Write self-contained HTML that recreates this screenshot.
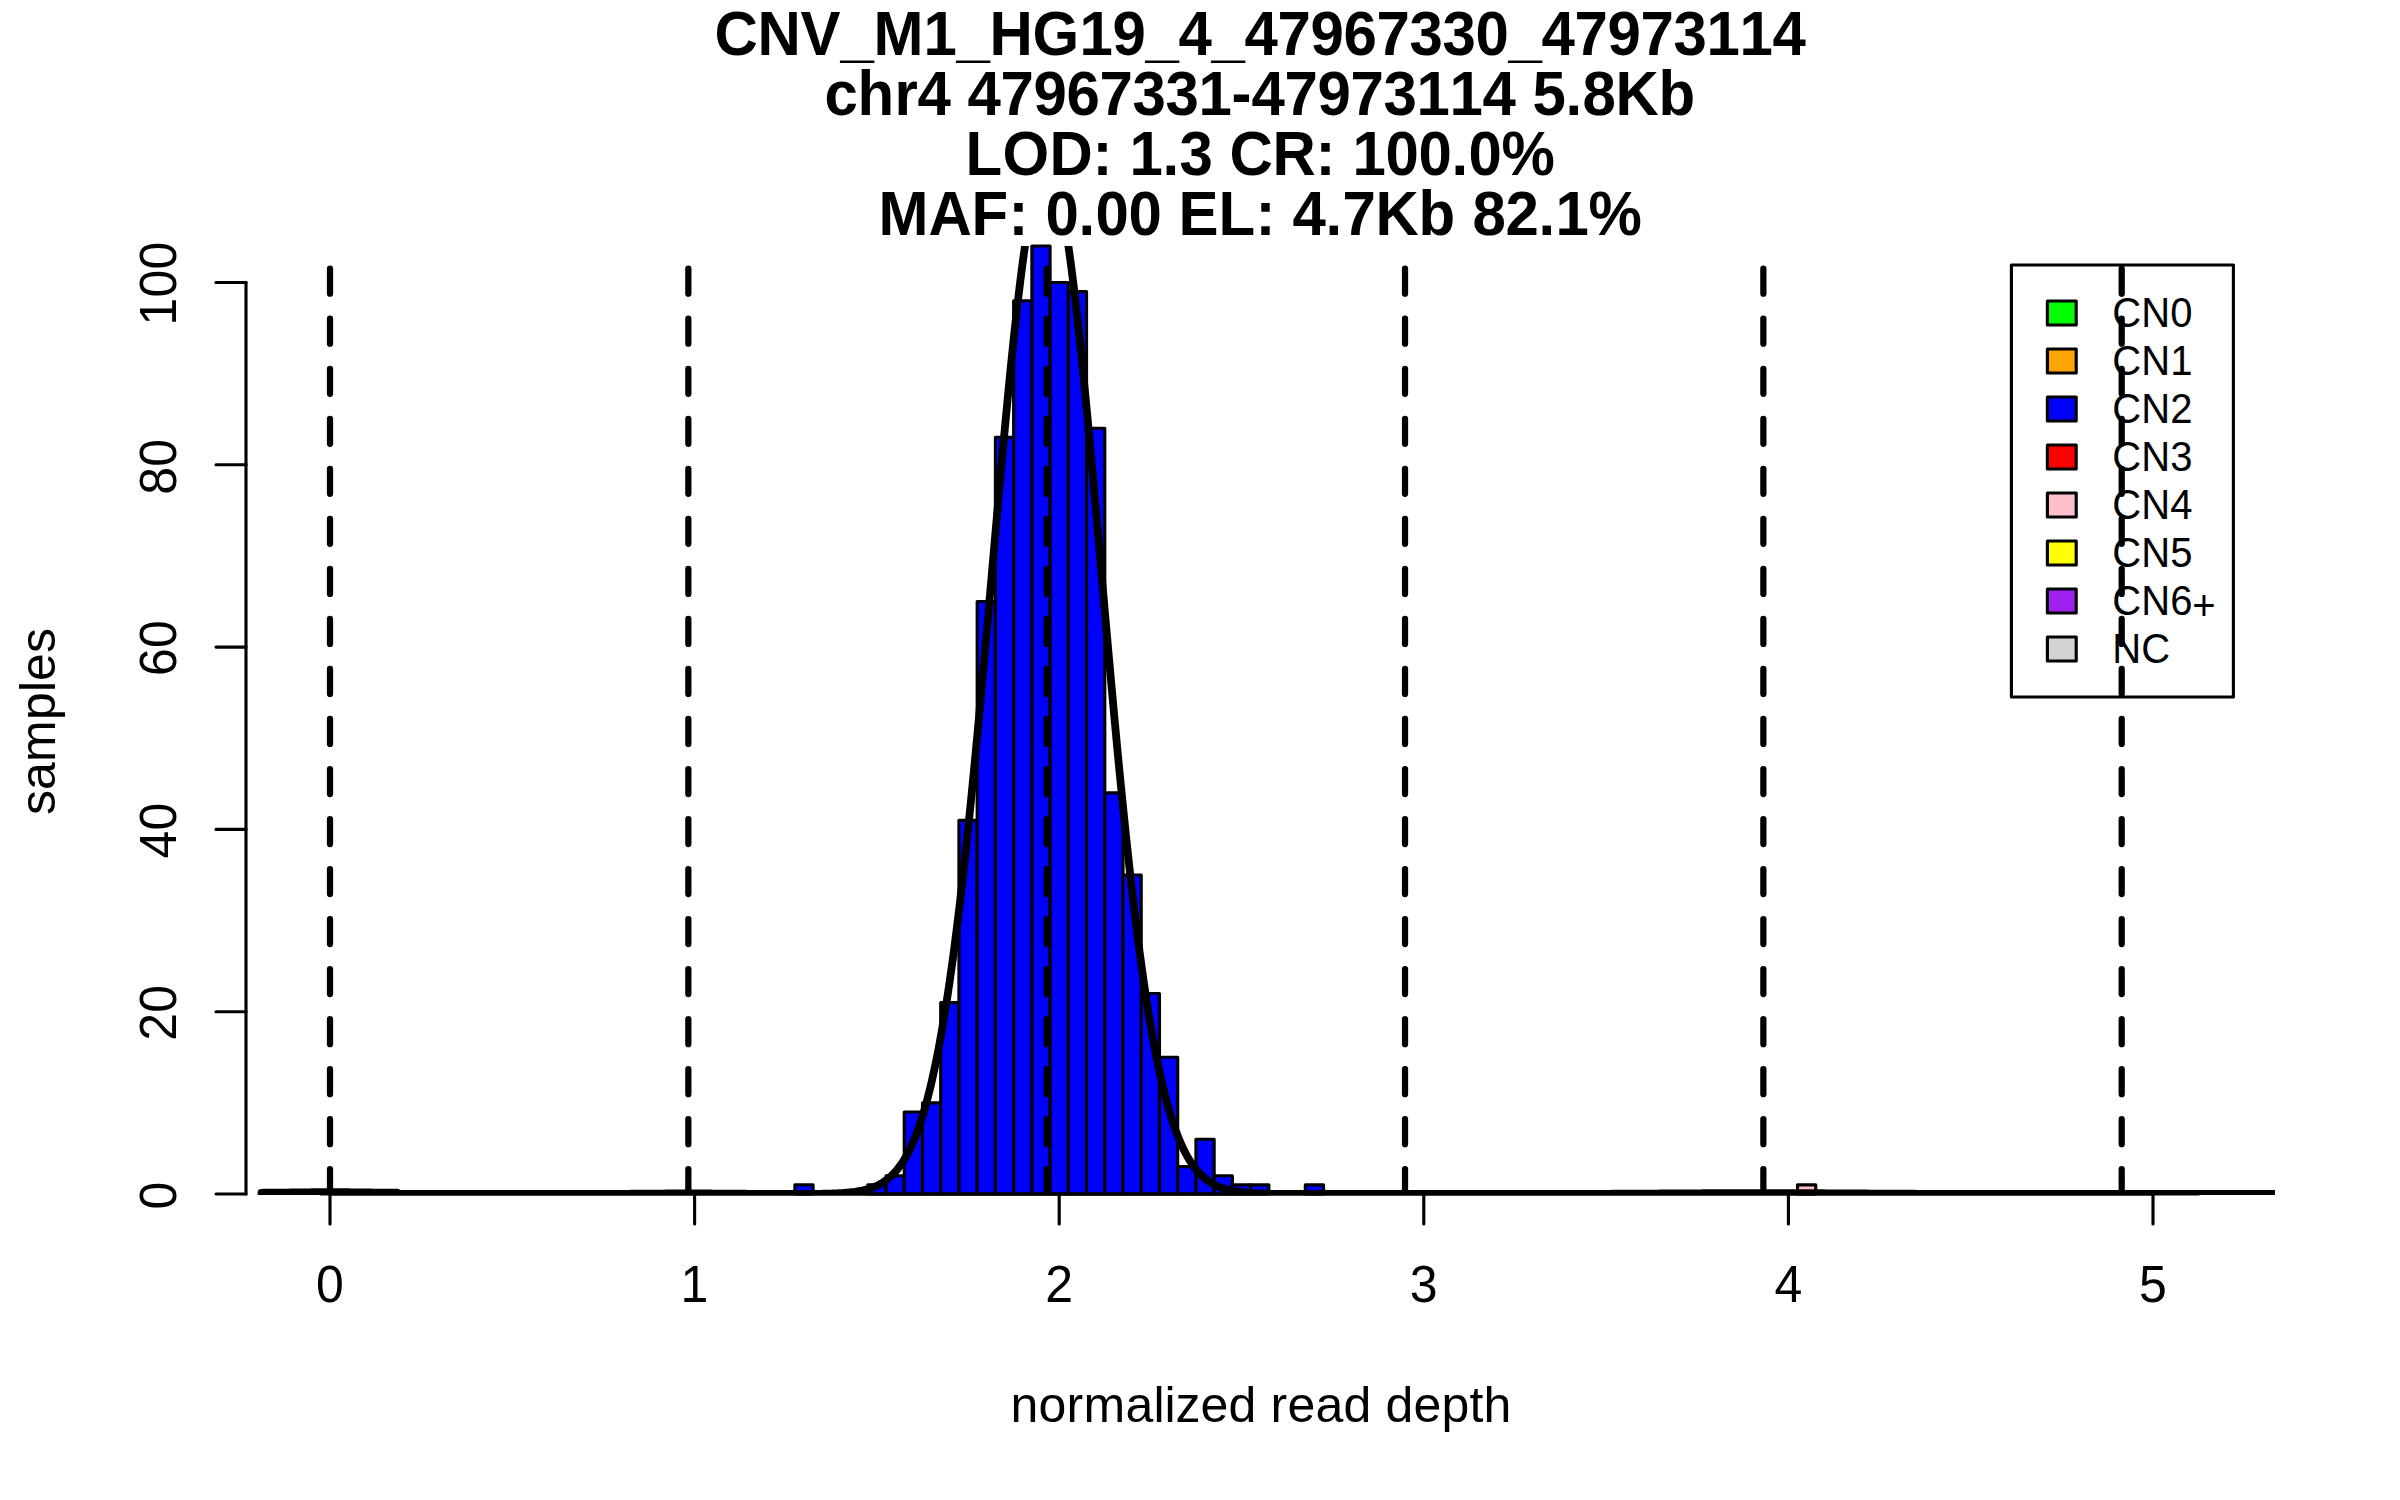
<!DOCTYPE html>
<html><head><meta charset="utf-8"><title>CNV_M1_HG19_4_47967330_47973114</title>
<style>html,body{margin:0;padding:0;background:#fff}body{width:2400px;height:1500px;overflow:hidden}</style></head>
<body>
<svg width="2400" height="1500" viewBox="0 0 2400 1500" style="display:block">
<defs><clipPath id="plt"><rect x="246.0" y="246.0" width="2029.0" height="949.0"/></clipPath></defs>
<rect width="2400" height="1500" fill="#fff"/>
<g stroke="#000" stroke-width="3.125" stroke-linejoin="round" stroke-linecap="round">
<line x1="320.88" y1="1194.0" x2="2198.57" y2="1194.0"/>
<rect x="794.87" y="1184.88" width="18.23" height="9.12" fill="#0000ff"/>
<rect x="867.79" y="1184.88" width="18.23" height="9.12" fill="#0000ff"/>
<rect x="886.02" y="1175.77" width="18.23" height="18.23" fill="#0000ff"/>
<rect x="904.25" y="1111.96" width="18.23" height="82.04" fill="#0000ff"/>
<rect x="922.48" y="1102.85" width="18.23" height="91.15" fill="#0000ff"/>
<rect x="940.71" y="1002.58" width="18.23" height="191.42" fill="#0000ff"/>
<rect x="958.94" y="820.27" width="18.23" height="373.73" fill="#0000ff"/>
<rect x="977.17" y="601.50" width="18.23" height="592.50" fill="#0000ff"/>
<rect x="995.40" y="437.42" width="18.23" height="756.58" fill="#0000ff"/>
<rect x="1013.63" y="300.69" width="18.23" height="893.31" fill="#0000ff"/>
<rect x="1031.86" y="246.00" width="18.23" height="948.00" fill="#0000ff"/>
<rect x="1050.09" y="282.46" width="18.23" height="911.54" fill="#0000ff"/>
<rect x="1068.32" y="291.58" width="18.23" height="902.42" fill="#0000ff"/>
<rect x="1086.55" y="428.31" width="18.23" height="765.69" fill="#0000ff"/>
<rect x="1104.78" y="792.92" width="18.23" height="401.08" fill="#0000ff"/>
<rect x="1123.01" y="874.96" width="18.23" height="319.04" fill="#0000ff"/>
<rect x="1141.24" y="993.46" width="18.23" height="200.54" fill="#0000ff"/>
<rect x="1159.47" y="1057.27" width="18.23" height="136.73" fill="#0000ff"/>
<rect x="1177.70" y="1166.65" width="18.23" height="27.35" fill="#0000ff"/>
<rect x="1195.93" y="1139.31" width="18.23" height="54.69" fill="#0000ff"/>
<rect x="1214.16" y="1175.77" width="18.23" height="18.23" fill="#0000ff"/>
<rect x="1232.39" y="1184.88" width="18.23" height="9.12" fill="#0000ff"/>
<rect x="1250.62" y="1184.88" width="18.23" height="9.12" fill="#0000ff"/>
<rect x="1305.31" y="1184.88" width="18.23" height="9.12" fill="#0000ff"/>
<rect x="1797.51" y="1184.88" width="18.23" height="9.12" fill="#ffc0cb"/>
</g>
<g stroke="#000" stroke-width="3.125" stroke-linecap="round" fill="none">
<line x1="330.0" y1="1194.0" x2="2153.0" y2="1194.0"/>
<line x1="330.00" y1="1194.0" x2="330.00" y2="1224.0"/>
<line x1="694.60" y1="1194.0" x2="694.60" y2="1224.0"/>
<line x1="1059.20" y1="1194.0" x2="1059.20" y2="1224.0"/>
<line x1="1423.80" y1="1194.0" x2="1423.80" y2="1224.0"/>
<line x1="1788.40" y1="1194.0" x2="1788.40" y2="1224.0"/>
<line x1="2153.00" y1="1194.0" x2="2153.00" y2="1224.0"/>
<line x1="246.0" y1="1194.00" x2="246.0" y2="282.46"/>
<line x1="246.0" y1="1194.00" x2="216.0" y2="1194.00"/>
<line x1="246.0" y1="1011.69" x2="216.0" y2="1011.69"/>
<line x1="246.0" y1="829.38" x2="216.0" y2="829.38"/>
<line x1="246.0" y1="647.08" x2="216.0" y2="647.08"/>
<line x1="246.0" y1="464.77" x2="216.0" y2="464.77"/>
<line x1="246.0" y1="282.46" x2="216.0" y2="282.46"/>
</g>
<g font-family="Liberation Sans, Arial, Helvetica, sans-serif" fill="#000">
<text transform="translate(330.00 1302.00) scale(1 1.03)" x="-14.0" y="0" font-size="50" xml:space="preserve">0</text>
<text transform="translate(694.60 1302.00) scale(1 1.03)" x="-14.0" y="0" font-size="50" xml:space="preserve">1</text>
<text transform="translate(1059.20 1302.00) scale(1 1.03)" x="-14.0" y="0" font-size="50" xml:space="preserve">2</text>
<text transform="translate(1423.80 1302.00) scale(1 1.03)" x="-14.0" y="0" font-size="50" xml:space="preserve">3</text>
<text transform="translate(1788.40 1302.00) scale(1 1.03)" x="-14.0" y="0" font-size="50" xml:space="preserve">4</text>
<text transform="translate(2153.00 1302.00) scale(1 1.03)" x="-14.0" y="0" font-size="50" xml:space="preserve">5</text>
<text transform="translate(175.50 1195.50) rotate(-90) scale(1 1.03)" x="-14.0" y="0" font-size="50" xml:space="preserve">0</text>
<text transform="translate(175.50 1012.69) rotate(-90) scale(1 1.03)" x="-28.0 0.0" y="0" font-size="50" xml:space="preserve">20</text>
<text transform="translate(175.50 830.38) rotate(-90) scale(1 1.03)" x="-28.0 0.0" y="0" font-size="50" xml:space="preserve">40</text>
<text transform="translate(175.50 648.08) rotate(-90) scale(1 1.03)" x="-28.0 0.0" y="0" font-size="50" xml:space="preserve">60</text>
<text transform="translate(175.50 466.77) rotate(-90) scale(1 1.03)" x="-28.0 0.0" y="0" font-size="50" xml:space="preserve">80</text>
<text transform="translate(175.50 283.46) rotate(-90) scale(1 1.03)" x="-42.0 -14.0 14.0" y="0" font-size="50" xml:space="preserve">100</text>
<text transform="translate(1261.00 1422.00)" x="-250.5 -222.5 -194.5 -177.5 -135.5 -107.5 -96.5 -85.5 -60.5 -32.5 -4.5 9.5 26.5 54.5 82.5 110.5 124.5 152.5 180.5 208.5 222.5" y="0" font-size="50" xml:space="preserve">normalized read depth</text>
<text transform="translate(55.00 721.50) rotate(-90)" x="-93.5 -68.5 -40.5 1.5 29.5 40.5 68.5" y="0" font-size="50" xml:space="preserve">samples</text>
<text transform="translate(1260.00 55.00) scale(1 1.045)" x="-545.5 -502.5 -459.5 -419.5 -386.5 -336.5 -303.5 -270.5 -227.5 -180.5 -147.5 -114.5 -81.5 -48.5 -15.5 17.5 50.5 83.5 116.5 149.5 182.5 215.5 248.5 281.5 314.5 347.5 380.5 413.5 446.5 479.5 512.5" y="0" font-size="60" font-weight="bold" xml:space="preserve">CNV_M1_HG19_4_47967330_47973114</text>
<text transform="translate(1260.00 115.00) scale(1 1.045)" x="-435.5 -402.5 -365.5 -342.5 -309.5 -292.5 -259.5 -226.5 -193.5 -160.5 -127.5 -94.5 -61.5 -28.5 -8.5 24.5 57.5 90.5 123.5 156.5 189.5 222.5 255.5 272.5 305.5 322.5 355.5 398.5" y="0" font-size="60" font-weight="bold" xml:space="preserve">chr4 47967331-47973114 5.8Kb</text>
<text transform="translate(1260.00 175.00) scale(1 1.045)" x="-294.5 -257.5 -210.5 -167.5 -147.5 -130.5 -97.5 -80.5 -47.5 -30.5 12.5 55.5 75.5 92.5 125.5 158.5 191.5 208.5 241.5" y="0" font-size="60" font-weight="bold" xml:space="preserve">LOD: 1.3 CR: 100.0%</text>
<text transform="translate(1260.00 235.00) scale(1 1.045)" x="-381.5 -331.5 -288.5 -251.5 -231.5 -214.5 -181.5 -164.5 -131.5 -98.5 -81.5 -41.5 -4.5 15.5 32.5 65.5 82.5 115.5 158.5 195.5 212.5 245.5 278.5 295.5 328.5" y="0" font-size="60" font-weight="bold" xml:space="preserve">MAF: 0.00 EL: 4.7Kb 82.1%</text>
</g>
<path d="M261.4,1192.78 L262.4,1192.78 L263.4,1192.77 L264.4,1192.76 L265.4,1192.75 L266.4,1192.75 L267.4,1192.74 L268.4,1192.73 L269.4,1192.72 L270.4,1192.71 L271.4,1192.71 L272.4,1192.70 L273.4,1192.69 L274.4,1192.68 L275.4,1192.67 L276.4,1192.66 L277.4,1192.65 L278.4,1192.64 L279.4,1192.63 L280.4,1192.62 L281.4,1192.61 L282.4,1192.60 L283.4,1192.58 L284.4,1192.57 L285.4,1192.56 L286.4,1192.55 L287.4,1192.54 L288.4,1192.53 L289.4,1192.51 L290.4,1192.50 L291.4,1192.49 L292.4,1192.48 L293.4,1192.47 L294.4,1192.45 L295.4,1192.44 L296.4,1192.43 L297.4,1192.42 L298.4,1192.41 L299.4,1192.39 L300.4,1192.38 L301.4,1192.37 L302.4,1192.36 L303.4,1192.35 L304.4,1192.34 L305.4,1192.33 L306.4,1192.31 L307.4,1192.30 L308.4,1192.29 L309.4,1192.28 L310.4,1192.28 L311.4,1192.27 L312.4,1192.26 L313.4,1192.25 L314.4,1192.24 L315.4,1192.23 L316.4,1192.23 L317.4,1192.22 L318.4,1192.21 L319.4,1192.21 L320.4,1192.20 L321.4,1192.20 L322.4,1192.19 L323.4,1192.19 L324.4,1192.19 L325.4,1192.18 L326.4,1192.18 L327.4,1192.18 L328.4,1192.18 L329.4,1192.18 L330.4,1192.18 L331.4,1192.18 L332.4,1192.18 L333.4,1192.18 L334.4,1192.18 L335.4,1192.18 L336.4,1192.19 L337.4,1192.19 L338.4,1192.20 L339.4,1192.20 L340.4,1192.21 L341.4,1192.21 L342.4,1192.22 L343.4,1192.22 L344.4,1192.23 L345.4,1192.24 L346.4,1192.25 L347.4,1192.26 L348.4,1192.26 L349.4,1192.27 L350.4,1192.28 L351.4,1192.29 L352.4,1192.30 L353.4,1192.31 L354.4,1192.32 L355.4,1192.33 L356.4,1192.35 L357.4,1192.36 L358.4,1192.37 L359.4,1192.38 L360.4,1192.39 L361.4,1192.40 L362.4,1192.41 L363.4,1192.43 L364.4,1192.44 L365.4,1192.45 L366.4,1192.46 L367.4,1192.48 L368.4,1192.49 L369.4,1192.50 L370.4,1192.51 L371.4,1192.52 L372.4,1192.54 L373.4,1192.55 L374.4,1192.56 L375.4,1192.57 L376.4,1192.58 L377.4,1192.59 L378.4,1192.60 L379.4,1192.61 L380.4,1192.63 L381.4,1192.64 L382.4,1192.65 L383.4,1192.66 L384.4,1192.67 L385.4,1192.68 L386.4,1192.69 L387.4,1192.69 L388.4,1192.70 L389.4,1192.71 L390.4,1192.72 L391.4,1192.73 L392.4,1192.74 L393.4,1192.75 L394.4,1192.75 L395.4,1192.76 L396.4,1192.77 L397.4,1192.77 L398.4,1193.87 L399.4,1193.88 L400.4,1193.89 L401.4,1193.89 L402.4,1193.90 L403.4,1193.90 L404.4,1193.91 L405.4,1193.91 L406.4,1193.92 L407.4,1193.92 L408.4,1193.93 L409.4,1193.93 L410.4,1193.94 L411.4,1193.94 L412.4,1193.94 L413.4,1193.95 L414.4,1193.95 L415.4,1193.95 L416.4,1193.96 L417.4,1193.96 L418.4,1193.96 L419.4,1193.96 L420.4,1193.97 L421.4,1193.97 L422.4,1193.97 L423.4,1193.97 L424.4,1193.97 L425.4,1193.98 L426.4,1193.98 L427.4,1193.98 L428.4,1193.98 L429.4,1193.98 L430.4,1193.98 L431.4,1193.98 L432.4,1193.99 L433.4,1193.99 L434.4,1193.99 L435.4,1193.99 L436.4,1193.99 L437.4,1193.99 L438.4,1193.99 L439.4,1193.99 L440.4,1193.99 L441.4,1193.99 L442.4,1193.99 L443.4,1193.99 L444.4,1193.99 L445.4,1194.00 L446.4,1194.00 L447.4,1194.00 L448.4,1194.00 L449.4,1194.00 L450.4,1194.00 L451.4,1194.00 L452.4,1194.00 L453.4,1194.00 L454.4,1194.00 L455.4,1194.00 L456.4,1194.00 L457.4,1194.00 L458.4,1194.00 L459.4,1194.00 L460.4,1194.00 L461.4,1194.00 L462.4,1194.00 L463.4,1194.00 L464.4,1194.00 L465.4,1194.00 L466.4,1194.00 L467.4,1194.00 L468.4,1194.00 L469.4,1194.00 L470.4,1194.00 L471.4,1194.00 L472.4,1194.00 L473.4,1194.00 L474.4,1194.00 L475.4,1194.00 L476.4,1194.00 L477.4,1194.00 L478.4,1194.00 L479.4,1194.00 L480.4,1194.00 L481.4,1194.00 L482.4,1194.00 L483.4,1194.00 L484.4,1194.00 L485.4,1194.00 L486.4,1194.00 L487.4,1194.00 L488.4,1194.00 L489.4,1194.00 L490.4,1194.00 L491.4,1194.00 L492.4,1194.00 L493.4,1194.00 L494.4,1194.00 L495.4,1194.00 L496.4,1194.00 L497.4,1194.00 L498.4,1194.00 L499.4,1194.00 L500.4,1194.00 L501.4,1194.00 L502.4,1194.00 L503.4,1194.00 L504.4,1194.00 L505.4,1194.00 L506.4,1194.00 L507.4,1194.00 L508.4,1194.00 L509.4,1194.00 L510.4,1194.00 L511.4,1194.00 L512.4,1194.00 L513.4,1194.00 L514.4,1194.00 L515.4,1194.00 L516.4,1194.00 L517.4,1194.00 L518.4,1194.00 L519.4,1194.00 L520.4,1194.00 L521.4,1194.00 L522.4,1194.00 L523.4,1194.00 L524.4,1194.00 L525.4,1194.00 L526.4,1194.00 L527.4,1194.00 L528.4,1194.00 L529.4,1194.00 L530.4,1194.00 L531.4,1194.00 L532.4,1194.00 L533.4,1194.00 L534.4,1194.00 L535.4,1194.00 L536.4,1194.00 L537.4,1194.00 L538.4,1194.00 L539.4,1194.00 L540.4,1194.00 L541.4,1194.00 L542.4,1194.00 L543.4,1194.00 L544.4,1194.00 L545.4,1194.00 L546.4,1194.00 L547.4,1194.00 L548.4,1194.00 L549.4,1194.00 L550.4,1194.00 L551.4,1194.00 L552.4,1194.00 L553.4,1194.00 L554.4,1193.99 L555.4,1193.99 L556.4,1193.99 L557.4,1193.99 L558.4,1193.99 L559.4,1193.99 L560.4,1193.99 L561.4,1193.99 L562.4,1193.99 L563.4,1193.99 L564.4,1193.99 L565.4,1193.99 L566.4,1193.99 L567.4,1193.99 L568.4,1193.99 L569.4,1193.99 L570.4,1193.99 L571.4,1193.98 L572.4,1193.98 L573.4,1193.98 L574.4,1193.98 L575.4,1193.98 L576.4,1193.98 L577.4,1193.98 L578.4,1193.98 L579.4,1193.98 L580.4,1193.97 L581.4,1193.97 L582.4,1193.97 L583.4,1193.97 L584.4,1193.97 L585.4,1193.97 L586.4,1193.96 L587.4,1193.96 L588.4,1193.96 L589.4,1193.96 L590.4,1193.96 L591.4,1193.95 L592.4,1193.95 L593.4,1193.95 L594.4,1193.95 L595.4,1193.94 L596.4,1193.94 L597.4,1193.94 L598.4,1193.93 L599.4,1193.93 L600.4,1193.93 L601.4,1193.92 L602.4,1193.92 L603.4,1193.92 L604.4,1193.91 L605.4,1193.91 L606.4,1193.91 L607.4,1193.90 L608.4,1193.90 L609.4,1193.89 L610.4,1193.89 L611.4,1193.88 L612.4,1193.88 L613.4,1193.87 L614.4,1193.87 L615.4,1193.86 L616.4,1193.86 L617.4,1193.85 L618.4,1193.85 L619.4,1193.84 L620.4,1193.84 L621.4,1193.83 L622.4,1193.82 L623.4,1193.82 L624.4,1193.81 L625.4,1193.81 L626.4,1193.80 L627.4,1193.79 L628.4,1193.79 L629.4,1193.78 L630.4,1193.77 L631.4,1193.77 L632.4,1193.76 L633.4,1193.75 L634.4,1193.74 L635.4,1193.74 L636.4,1193.73 L637.4,1193.72 L638.4,1193.71 L639.4,1193.71 L640.4,1193.70 L641.4,1193.69 L642.4,1193.68 L643.4,1193.68 L644.4,1193.67 L645.4,1193.66 L646.4,1193.65 L647.4,1193.65 L648.4,1193.64 L649.4,1193.63 L650.4,1193.62 L651.4,1193.62 L652.4,1193.61 L653.4,1193.60 L654.4,1193.60 L655.4,1193.59 L656.4,1193.58 L657.4,1193.57 L658.4,1193.57 L659.4,1193.56 L660.4,1193.55 L661.4,1193.55 L662.4,1193.54 L663.4,1193.54 L664.4,1193.53 L665.4,1193.52 L666.4,1193.52 L667.4,1193.51 L668.4,1193.51 L669.4,1193.50 L670.4,1193.50 L671.4,1193.49 L672.4,1193.49 L673.4,1193.48 L674.4,1193.48 L675.4,1193.48 L676.4,1193.47 L677.4,1193.47 L678.4,1193.47 L679.4,1193.46 L680.4,1193.46 L681.4,1193.46 L682.4,1193.46 L683.4,1193.46 L684.4,1193.46 L685.4,1193.45 L686.4,1193.45 L687.4,1193.45 L688.4,1193.45 L689.4,1193.45 L690.4,1193.45 L691.4,1193.45 L692.4,1193.46 L693.4,1193.46 L694.4,1193.46 L695.4,1193.46 L696.4,1193.46 L697.4,1193.46 L698.4,1193.47 L699.4,1193.47 L700.4,1193.47 L701.4,1193.48 L702.4,1193.48 L703.4,1193.48 L704.4,1193.49 L705.4,1193.49 L706.4,1193.50 L707.4,1193.50 L708.4,1193.51 L709.4,1193.51 L710.4,1193.52 L711.4,1193.52 L712.4,1193.53 L713.4,1193.54 L714.4,1193.54 L715.4,1193.55 L716.4,1193.55 L717.4,1193.56 L718.4,1193.57 L719.4,1193.57 L720.4,1193.58 L721.4,1193.59 L722.4,1193.60 L723.4,1193.60 L724.4,1193.61 L725.4,1193.62 L726.4,1193.63 L727.4,1193.63 L728.4,1193.64 L729.4,1193.65 L730.4,1193.66 L731.4,1193.66 L732.4,1193.67 L733.4,1193.68 L734.4,1193.69 L735.4,1193.69 L736.4,1193.70 L737.4,1193.71 L738.4,1193.72 L739.4,1193.72 L740.4,1193.73 L741.4,1193.74 L742.4,1193.74 L743.4,1193.75 L744.4,1193.76 L745.4,1193.77 L746.4,1193.77 L747.4,1193.78 L748.4,1193.79 L749.4,1193.79 L750.4,1193.80 L751.4,1193.81 L752.4,1193.81 L753.4,1193.82 L754.4,1193.82 L755.4,1193.83 L756.4,1193.84 L757.4,1193.84 L758.4,1193.85 L759.4,1193.85 L760.4,1193.86 L761.4,1193.86 L762.4,1193.87 L763.4,1193.87 L764.4,1193.88 L765.4,1193.88 L766.4,1193.89 L767.4,1193.89 L768.4,1193.90 L769.4,1193.90 L770.4,1193.90 L771.4,1193.91 L772.4,1193.91 L773.4,1193.91 L774.4,1193.92 L775.4,1193.92 L776.4,1193.92 L777.4,1193.93 L778.4,1193.93 L779.4,1193.93 L780.4,1193.93 L781.4,1193.94 L782.4,1193.94 L783.4,1193.94 L784.4,1193.94 L785.4,1193.94 L786.4,1193.94 L787.4,1193.94 L788.4,1193.95 L789.4,1193.95 L790.4,1193.95 L791.4,1193.95 L792.4,1193.95 L793.4,1193.95 L794.4,1193.95 L795.4,1193.95 L796.4,1193.95 L797.4,1193.94 L798.4,1193.94 L799.4,1193.94 L800.4,1193.94 L801.4,1193.94 L802.4,1193.93 L803.4,1193.93 L804.4,1193.93 L805.4,1193.92 L806.4,1193.92 L807.4,1193.92 L808.4,1193.91 L809.4,1193.90 L810.4,1193.90 L811.4,1193.89 L812.4,1193.88 L813.4,1193.88 L814.4,1193.87 L815.4,1193.86 L816.4,1193.85 L817.4,1193.84 L818.4,1193.82 L819.4,1193.81 L820.4,1193.80 L821.4,1193.78 L822.4,1193.77 L823.4,1193.75 L824.4,1193.73 L825.4,1193.71 L826.4,1193.69 L827.4,1193.67 L828.4,1193.64 L829.4,1193.61 L830.4,1193.59 L831.4,1193.55 L832.4,1193.52 L833.4,1193.49 L834.4,1193.45 L835.4,1193.41 L836.4,1193.37 L837.4,1193.32 L838.4,1193.27 L839.4,1193.22 L840.4,1193.16 L841.4,1193.10 L842.4,1193.04 L843.4,1192.97 L844.4,1192.90 L845.4,1192.83 L846.4,1192.74 L847.4,1192.66 L848.4,1192.56 L849.4,1192.47 L850.4,1192.36 L851.4,1192.25 L852.4,1192.13 L853.4,1192.01 L854.4,1191.88 L855.4,1191.74 L856.4,1191.59 L857.4,1191.43 L858.4,1191.26 L859.4,1191.09 L860.4,1190.90 L861.4,1190.70 L862.4,1190.49 L863.4,1190.27 L864.4,1190.03 L865.4,1189.78 L866.4,1189.52 L867.4,1189.24 L868.4,1188.95 L869.4,1188.64 L870.4,1188.31 L871.4,1187.97 L872.4,1187.61 L873.4,1187.22 L874.4,1186.82 L875.4,1186.40 L876.4,1185.95 L877.4,1185.48 L878.4,1184.98 L879.4,1184.46 L880.4,1183.92 L881.4,1183.34 L882.4,1182.74 L883.4,1182.10 L884.4,1181.44 L885.4,1180.74 L886.4,1180.01 L887.4,1179.24 L888.4,1178.44 L889.4,1177.59 L890.4,1176.71 L891.4,1175.79 L892.4,1174.82 L893.4,1173.81 L894.4,1172.75 L895.4,1171.64 L896.4,1170.49 L897.4,1169.28 L898.4,1168.02 L899.4,1166.70 L900.4,1165.33 L901.4,1163.90 L902.4,1162.40 L903.4,1160.85 L904.4,1159.23 L905.4,1157.54 L906.4,1155.78 L907.4,1153.95 L908.4,1152.05 L909.4,1150.07 L910.4,1148.02 L911.4,1145.88 L912.4,1143.67 L913.4,1141.36 L914.4,1138.97 L915.4,1136.49 L916.4,1133.92 L917.4,1131.26 L918.4,1128.50 L919.4,1125.64 L920.4,1122.68 L921.4,1119.62 L922.4,1116.45 L923.4,1113.17 L924.4,1109.79 L925.4,1106.29 L926.4,1102.67 L927.4,1098.94 L928.4,1095.09 L929.4,1091.12 L930.4,1087.02 L931.4,1082.80 L932.4,1078.45 L933.4,1073.97 L934.4,1069.35 L935.4,1064.61 L936.4,1059.73 L937.4,1054.71 L938.4,1049.55 L939.4,1044.25 L940.4,1038.80 L941.4,1033.22 L942.4,1027.48 L943.4,1021.61 L944.4,1015.58 L945.4,1009.40 L946.4,1003.08 L947.4,996.60 L948.4,989.97 L949.4,983.19 L950.4,976.26 L951.4,969.17 L952.4,961.94 L953.4,954.54 L954.4,947.00 L955.4,939.30 L956.4,931.45 L957.4,923.45 L958.4,915.30 L959.4,907.00 L960.4,898.55 L961.4,889.96 L962.4,881.22 L963.4,872.33 L964.4,863.30 L965.4,854.14 L966.4,844.83 L967.4,835.40 L968.4,825.82 L969.4,816.13 L970.4,806.30 L971.4,796.35 L972.4,786.28 L973.4,776.10 L974.4,765.81 L975.4,755.41 L976.4,744.91 L977.4,734.30 L978.4,723.61 L979.4,712.83 L980.4,701.97 L981.4,691.03 L982.4,680.01 L983.4,668.93 L984.4,657.80 L985.4,646.61 L986.4,635.37 L987.4,624.09 L988.4,612.78 L989.4,601.44 L990.4,590.09 L991.4,578.72 L992.4,567.35 L993.4,555.98 L994.4,544.62 L995.4,533.28 L996.4,521.97 L997.4,510.69 L998.4,499.45 L999.4,488.27 L1000.4,477.14 L1001.4,466.09 L1002.4,455.11 L1003.4,444.21 L1004.4,433.41 L1005.4,422.71 L1006.4,412.13 L1007.4,401.66 L1008.4,391.32 L1009.4,381.11 L1010.4,371.06 L1011.4,361.15 L1012.4,351.41 L1013.4,341.84 L1014.4,332.45 L1015.4,323.25 L1016.4,314.24 L1017.4,305.44 L1018.4,296.85 L1019.4,288.48 L1020.4,280.33 L1021.4,272.42 L1022.4,264.76 L1023.4,257.34 L1024.4,250.18 L1025.4,243.28 L1026.4,236.65 L1027.4,230.30 L1028.4,224.23 L1029.4,218.45 L1030.4,212.96 L1031.4,207.77 L1032.4,202.89 L1033.4,198.31 L1034.4,194.05 L1035.4,190.10 L1036.4,186.48 L1037.4,183.18 L1038.4,180.20 L1039.4,177.56 L1040.4,175.26 L1041.4,173.29 L1042.4,171.65 L1043.4,170.36 L1044.4,169.41 L1045.4,168.80 L1046.4,168.53 L1047.4,168.61 L1048.4,169.03 L1049.4,169.79 L1050.4,170.89 L1051.4,172.33 L1052.4,174.11 L1053.4,176.23 L1054.4,178.69 L1055.4,181.47 L1056.4,184.59 L1057.4,188.03 L1058.4,191.80 L1059.4,195.89 L1060.4,200.29 L1061.4,205.00 L1062.4,210.02 L1063.4,215.34 L1064.4,220.96 L1065.4,226.87 L1066.4,233.07 L1067.4,239.54 L1068.4,246.29 L1069.4,253.30 L1070.4,260.58 L1071.4,268.11 L1072.4,275.88 L1073.4,283.89 L1074.4,292.14 L1075.4,300.61 L1076.4,309.29 L1077.4,318.19 L1078.4,327.28 L1079.4,336.57 L1080.4,346.04 L1081.4,355.68 L1082.4,365.50 L1083.4,375.47 L1084.4,385.59 L1085.4,395.86 L1086.4,406.26 L1087.4,416.78 L1088.4,427.42 L1089.4,438.16 L1090.4,449.00 L1091.4,459.94 L1092.4,470.95 L1093.4,482.04 L1094.4,493.19 L1095.4,504.40 L1096.4,515.65 L1097.4,526.95 L1098.4,538.27 L1099.4,549.62 L1100.4,560.99 L1101.4,572.36 L1102.4,583.73 L1103.4,595.10 L1104.4,606.44 L1105.4,617.77 L1106.4,629.07 L1107.4,640.33 L1108.4,651.55 L1109.4,662.71 L1110.4,673.82 L1111.4,684.87 L1112.4,695.86 L1113.4,706.76 L1114.4,717.59 L1115.4,728.34 L1116.4,738.99 L1117.4,749.55 L1118.4,760.00 L1119.4,770.36 L1120.4,780.60 L1121.4,790.74 L1122.4,800.75 L1123.4,810.65 L1124.4,820.42 L1125.4,830.06 L1126.4,839.57 L1127.4,848.95 L1128.4,858.20 L1129.4,867.30 L1130.4,876.27 L1131.4,885.09 L1132.4,893.76 L1133.4,902.30 L1134.4,910.68 L1135.4,918.91 L1136.4,927.00 L1137.4,934.93 L1138.4,942.71 L1139.4,950.34 L1140.4,957.82 L1141.4,965.14 L1142.4,972.32 L1143.4,979.33 L1144.4,986.20 L1145.4,992.91 L1146.4,999.47 L1147.4,1005.88 L1148.4,1012.14 L1149.4,1018.25 L1150.4,1024.21 L1151.4,1030.03 L1152.4,1035.70 L1153.4,1041.22 L1154.4,1046.60 L1155.4,1051.84 L1156.4,1056.94 L1157.4,1061.89 L1158.4,1066.72 L1159.4,1071.40 L1160.4,1075.96 L1161.4,1080.38 L1162.4,1084.67 L1163.4,1088.84 L1164.4,1092.88 L1165.4,1096.80 L1166.4,1100.60 L1167.4,1104.28 L1168.4,1107.84 L1169.4,1111.29 L1170.4,1114.63 L1171.4,1117.86 L1172.4,1120.98 L1173.4,1124.00 L1174.4,1126.91 L1175.4,1129.73 L1176.4,1132.45 L1177.4,1135.07 L1178.4,1137.60 L1179.4,1140.04 L1180.4,1142.39 L1181.4,1144.65 L1182.4,1146.83 L1183.4,1148.93 L1184.4,1150.95 L1185.4,1152.90 L1186.4,1154.77 L1187.4,1156.56 L1188.4,1158.29 L1189.4,1159.95 L1190.4,1161.54 L1191.4,1163.07 L1192.4,1164.54 L1193.4,1165.94 L1194.4,1167.29 L1195.4,1168.58 L1196.4,1169.82 L1197.4,1171.00 L1198.4,1172.14 L1199.4,1173.22 L1200.4,1174.26 L1201.4,1175.25 L1202.4,1176.20 L1203.4,1177.10 L1204.4,1177.97 L1205.4,1178.80 L1206.4,1179.58 L1207.4,1180.34 L1208.4,1181.05 L1209.4,1181.74 L1210.4,1182.39 L1211.4,1183.01 L1212.4,1183.60 L1213.4,1184.16 L1214.4,1184.70 L1215.4,1185.20 L1216.4,1185.69 L1217.4,1186.15 L1218.4,1186.59 L1219.4,1187.00 L1220.4,1187.39 L1221.4,1187.77 L1222.4,1188.12 L1223.4,1188.46 L1224.4,1188.78 L1225.4,1189.08 L1226.4,1189.37 L1227.4,1189.64 L1228.4,1189.89 L1229.4,1190.14 L1230.4,1190.37 L1231.4,1190.58 L1232.4,1190.79 L1233.4,1190.98 L1234.4,1191.16 L1235.4,1191.34 L1236.4,1191.50 L1237.4,1191.65 L1238.4,1191.80 L1239.4,1191.94 L1240.4,1192.07 L1241.4,1192.19 L1242.4,1192.30 L1243.4,1192.41 L1244.4,1192.51 L1245.4,1192.61 L1246.4,1192.70 L1247.4,1192.78 L1248.4,1192.86 L1249.4,1192.93 L1250.4,1193.00 L1251.4,1193.07 L1252.4,1193.13 L1253.4,1193.19 L1254.4,1193.24 L1255.4,1193.30 L1256.4,1193.34 L1257.4,1193.39 L1258.4,1193.43 L1259.4,1193.47 L1260.4,1193.50 L1261.4,1193.54 L1262.4,1193.57 L1263.4,1193.60 L1264.4,1193.63 L1265.4,1193.65 L1266.4,1193.68 L1267.4,1193.70 L1268.4,1193.72 L1269.4,1193.74 L1270.4,1193.76 L1271.4,1193.78 L1272.4,1193.79 L1273.4,1193.81 L1274.4,1193.82 L1275.4,1193.84 L1276.4,1193.85 L1277.4,1193.86 L1278.4,1193.87 L1279.4,1193.88 L1280.4,1193.89 L1281.4,1193.90 L1282.4,1193.91 L1283.4,1193.91 L1284.4,1193.92 L1285.4,1193.93 L1286.4,1193.93 L1287.4,1193.94 L1288.4,1193.94 L1289.4,1193.95 L1290.4,1193.95 L1291.4,1193.95 L1292.4,1193.96 L1293.4,1193.96 L1294.4,1193.96 L1295.4,1193.97 L1296.4,1193.97 L1297.4,1193.97 L1298.4,1193.97 L1299.4,1193.98 L1300.4,1193.98 L1301.4,1193.98 L1302.4,1193.98 L1303.4,1193.98 L1304.4,1193.98 L1305.4,1193.99 L1306.4,1193.99 L1307.4,1193.99 L1308.4,1193.99 L1309.4,1193.99 L1310.4,1193.99 L1311.4,1193.99 L1312.4,1193.99 L1313.4,1193.99 L1314.4,1193.99 L1315.4,1193.99 L1316.4,1193.99 L1317.4,1194.00 L1318.4,1194.00 L1319.4,1194.00 L1320.4,1194.00 L1321.4,1194.00 L1322.4,1194.00 L1323.4,1194.00 L1324.4,1194.00 L1325.4,1194.00 L1326.4,1194.00 L1327.4,1194.00 L1328.4,1194.00 L1329.4,1194.00 L1330.4,1194.00 L1331.4,1194.00 L1332.4,1194.00 L1333.4,1194.00 L1334.4,1194.00 L1335.4,1194.00 L1336.4,1194.00 L1337.4,1194.00 L1338.4,1194.00 L1339.4,1194.00 L1340.4,1194.00 L1341.4,1194.00 L1342.4,1194.00 L1343.4,1194.00 L1344.4,1194.00 L1345.4,1194.00 L1346.4,1194.00 L1347.4,1194.00 L1348.4,1194.00 L1349.4,1194.00 L1350.4,1194.00 L1351.4,1194.00 L1352.4,1194.00 L1353.4,1194.00 L1354.4,1194.00 L1355.4,1194.00 L1356.4,1194.00 L1357.4,1194.00 L1358.4,1194.00 L1359.4,1194.00 L1360.4,1194.00 L1361.4,1194.00 L1362.4,1194.00 L1363.4,1194.00 L1364.4,1194.00 L1365.4,1194.00 L1366.4,1194.00 L1367.4,1194.00 L1368.4,1194.00 L1369.4,1194.00 L1370.4,1194.00 L1371.4,1194.00 L1372.4,1194.00 L1373.4,1194.00 L1374.4,1194.00 L1375.4,1194.00 L1376.4,1194.00 L1377.4,1194.00 L1378.4,1194.00 L1379.4,1194.00 L1380.4,1194.00 L1381.4,1194.00 L1382.4,1194.00 L1383.4,1194.00 L1384.4,1194.00 L1385.4,1194.00 L1386.4,1194.00 L1387.4,1194.00 L1388.4,1194.00 L1389.4,1194.00 L1390.4,1194.00 L1391.4,1194.00 L1392.4,1194.00 L1393.4,1194.00 L1394.4,1194.00 L1395.4,1194.00 L1396.4,1194.00 L1397.4,1194.00 L1398.4,1194.00 L1399.4,1194.00 L1400.4,1194.00 L1401.4,1194.00 L1402.4,1194.00 L1403.4,1194.00 L1404.4,1194.00 L1405.4,1194.00 L1406.4,1194.00 L1407.4,1194.00 L1408.4,1194.00 L1409.4,1194.00 L1410.4,1194.00 L1411.4,1194.00 L1412.4,1194.00 L1413.4,1194.00 L1414.4,1194.00 L1415.4,1194.00 L1416.4,1194.00 L1417.4,1194.00 L1418.4,1194.00 L1419.4,1194.00 L1420.4,1194.00 L1421.4,1194.00 L1422.4,1194.00 L1423.4,1194.00 L1424.4,1194.00 L1425.4,1194.00 L1426.4,1194.00 L1427.4,1194.00 L1428.4,1194.00 L1429.4,1194.00 L1430.4,1194.00 L1431.4,1194.00 L1432.4,1194.00 L1433.4,1194.00 L1434.4,1194.00 L1435.4,1194.00 L1436.4,1194.00 L1437.4,1194.00 L1438.4,1194.00 L1439.4,1194.00 L1440.4,1194.00 L1441.4,1194.00 L1442.4,1194.00 L1443.4,1194.00 L1444.4,1194.00 L1445.4,1194.00 L1446.4,1194.00 L1447.4,1194.00 L1448.4,1194.00 L1449.4,1194.00 L1450.4,1194.00 L1451.4,1194.00 L1452.4,1194.00 L1453.4,1194.00 L1454.4,1194.00 L1455.4,1194.00 L1456.4,1194.00 L1457.4,1194.00 L1458.4,1194.00 L1459.4,1194.00 L1460.4,1194.00 L1461.4,1194.00 L1462.4,1194.00 L1463.4,1194.00 L1464.4,1194.00 L1465.4,1194.00 L1466.4,1194.00 L1467.4,1194.00 L1468.4,1194.00 L1469.4,1193.99 L1470.4,1193.99 L1471.4,1193.99 L1472.4,1193.99 L1473.4,1193.99 L1474.4,1193.99 L1475.4,1193.99 L1476.4,1193.99 L1477.4,1193.99 L1478.4,1193.99 L1479.4,1193.99 L1480.4,1193.99 L1481.4,1193.99 L1482.4,1193.99 L1483.4,1193.99 L1484.4,1193.99 L1485.4,1193.99 L1486.4,1193.99 L1487.4,1193.99 L1488.4,1193.99 L1489.4,1193.99 L1490.4,1193.99 L1491.4,1193.99 L1492.4,1193.99 L1493.4,1193.99 L1494.4,1193.99 L1495.4,1193.99 L1496.4,1193.99 L1497.4,1193.99 L1498.4,1193.99 L1499.4,1193.99 L1500.4,1193.99 L1501.4,1193.99 L1502.4,1193.98 L1503.4,1193.98 L1504.4,1193.98 L1505.4,1193.98 L1506.4,1193.98 L1507.4,1193.98 L1508.4,1193.98 L1509.4,1193.98 L1510.4,1193.98 L1511.4,1193.98 L1512.4,1193.98 L1513.4,1193.98 L1514.4,1193.98 L1515.4,1193.98 L1516.4,1193.98 L1517.4,1193.98 L1518.4,1193.98 L1519.4,1193.97 L1520.4,1193.97 L1521.4,1193.97 L1522.4,1193.97 L1523.4,1193.97 L1524.4,1193.97 L1525.4,1193.97 L1526.4,1193.97 L1527.4,1193.97 L1528.4,1193.97 L1529.4,1193.97 L1530.4,1193.97 L1531.4,1193.96 L1532.4,1193.96 L1533.4,1193.96 L1534.4,1193.96 L1535.4,1193.96 L1536.4,1193.96 L1537.4,1193.96 L1538.4,1193.96 L1539.4,1193.96 L1540.4,1193.95 L1541.4,1193.95 L1542.4,1193.95 L1543.4,1193.95 L1544.4,1193.95 L1545.4,1193.95 L1546.4,1193.95 L1547.4,1193.94 L1548.4,1193.94 L1549.4,1193.94 L1550.4,1193.94 L1551.4,1193.94 L1552.4,1193.94 L1553.4,1193.94 L1554.4,1193.93 L1555.4,1193.93 L1556.4,1193.93 L1557.4,1193.93 L1558.4,1193.93 L1559.4,1193.93 L1560.4,1193.92 L1561.4,1193.92 L1562.4,1193.92 L1563.4,1193.92 L1564.4,1193.92 L1565.4,1193.91 L1566.4,1193.91 L1567.4,1193.91 L1568.4,1193.91 L1569.4,1193.91 L1570.4,1193.90 L1571.4,1193.90 L1572.4,1193.90 L1573.4,1193.90 L1574.4,1193.89 L1575.4,1193.89 L1576.4,1193.89 L1577.4,1193.89 L1578.4,1193.88 L1579.4,1193.88 L1580.4,1193.88 L1581.4,1193.88 L1582.4,1193.87 L1583.4,1193.87 L1584.4,1193.87 L1585.4,1193.86 L1586.4,1193.86 L1587.4,1193.86 L1588.4,1193.86 L1589.4,1193.85 L1590.4,1193.85 L1591.4,1193.85 L1592.4,1193.84 L1593.4,1193.84 L1594.4,1193.84 L1595.4,1193.83 L1596.4,1193.83 L1597.4,1193.83 L1598.4,1193.82 L1599.4,1193.82 L1600.4,1193.82 L1601.4,1193.81 L1602.4,1193.81 L1603.4,1193.80 L1604.4,1193.80 L1605.4,1193.80 L1606.4,1193.79 L1607.4,1193.79 L1608.4,1193.79 L1609.4,1193.78 L1610.4,1193.78 L1611.4,1193.77 L1612.4,1193.77 L1613.4,1193.76 L1614.4,1193.76 L1615.4,1193.76 L1616.4,1193.75 L1617.4,1193.75 L1618.4,1193.74 L1619.4,1193.74 L1620.4,1193.73 L1621.4,1193.73 L1622.4,1193.72 L1623.4,1193.72 L1624.4,1193.71 L1625.4,1193.71 L1626.4,1193.71 L1627.4,1193.70 L1628.4,1193.70 L1629.4,1193.69 L1630.4,1193.69 L1631.4,1193.68 L1632.4,1193.68 L1633.4,1193.67 L1634.4,1193.66 L1635.4,1193.66 L1636.4,1193.65 L1637.4,1193.65 L1638.4,1193.64 L1639.4,1193.64 L1640.4,1193.63 L1641.4,1193.63 L1642.4,1193.62 L1643.4,1193.62 L1644.4,1193.61 L1645.4,1193.61 L1646.4,1193.60 L1647.4,1193.59 L1648.4,1193.59 L1649.4,1193.58 L1650.4,1193.58 L1651.4,1193.57 L1652.4,1193.57 L1653.4,1193.56 L1654.4,1193.55 L1655.4,1193.55 L1656.4,1193.54 L1657.4,1193.54 L1658.4,1193.53 L1659.4,1193.52 L1660.4,1193.52 L1661.4,1193.51 L1662.4,1193.51 L1663.4,1193.50 L1664.4,1193.49 L1665.4,1193.49 L1666.4,1193.48 L1667.4,1193.48 L1668.4,1193.47 L1669.4,1193.46 L1670.4,1193.46 L1671.4,1193.45 L1672.4,1193.45 L1673.4,1193.44 L1674.4,1193.43 L1675.4,1193.43 L1676.4,1193.42 L1677.4,1193.42 L1678.4,1193.41 L1679.4,1193.40 L1680.4,1193.40 L1681.4,1193.39 L1682.4,1193.39 L1683.4,1193.38 L1684.4,1193.37 L1685.4,1193.37 L1686.4,1193.36 L1687.4,1193.36 L1688.4,1193.35 L1689.4,1193.34 L1690.4,1193.34 L1691.4,1193.33 L1692.4,1193.33 L1693.4,1193.32 L1694.4,1193.32 L1695.4,1193.31 L1696.4,1193.30 L1697.4,1193.30 L1698.4,1193.29 L1699.4,1193.29 L1700.4,1193.28 L1701.4,1193.28 L1702.4,1193.27 L1703.4,1193.27 L1704.4,1193.26 L1705.4,1193.26 L1706.4,1193.25 L1707.4,1193.25 L1708.4,1193.24 L1709.4,1193.23 L1710.4,1193.23 L1711.4,1193.23 L1712.4,1193.22 L1713.4,1193.22 L1714.4,1193.21 L1715.4,1193.21 L1716.4,1193.20 L1717.4,1193.20 L1718.4,1193.19 L1719.4,1193.19 L1720.4,1193.18 L1721.4,1193.18 L1722.4,1193.18 L1723.4,1193.17 L1724.4,1193.17 L1725.4,1193.16 L1726.4,1193.16 L1727.4,1193.16 L1728.4,1193.15 L1729.4,1193.15 L1730.4,1193.15 L1731.4,1193.14 L1732.4,1193.14 L1733.4,1193.14 L1734.4,1193.13 L1735.4,1193.13 L1736.4,1193.13 L1737.4,1193.12 L1738.4,1193.12 L1739.4,1193.12 L1740.4,1193.12 L1741.4,1193.11 L1742.4,1193.11 L1743.4,1193.11 L1744.4,1193.11 L1745.4,1193.11 L1746.4,1193.10 L1747.4,1193.10 L1748.4,1193.10 L1749.4,1193.10 L1750.4,1193.10 L1751.4,1193.10 L1752.4,1193.10 L1753.4,1193.09 L1754.4,1193.09 L1755.4,1193.09 L1756.4,1193.09 L1757.4,1193.09 L1758.4,1193.09 L1759.4,1193.09 L1760.4,1193.09 L1761.4,1193.09 L1762.4,1193.09 L1763.4,1193.09 L1764.4,1193.09 L1765.4,1193.09 L1766.4,1193.09 L1767.4,1193.09 L1768.4,1193.09 L1769.4,1193.09 L1770.4,1193.09 L1771.4,1193.09 L1772.4,1193.09 L1773.4,1193.09 L1774.4,1193.10 L1775.4,1193.10 L1776.4,1193.10 L1777.4,1193.10 L1778.4,1193.10 L1779.4,1193.10 L1780.4,1193.10 L1781.4,1193.11 L1782.4,1193.11 L1783.4,1193.11 L1784.4,1193.11 L1785.4,1193.11 L1786.4,1193.12 L1787.4,1193.12 L1788.4,1193.12 L1789.4,1193.12 L1790.4,1193.13 L1791.4,1193.13 L1792.4,1193.13 L1793.4,1193.14 L1794.4,1193.14 L1795.4,1193.14 L1796.4,1193.15 L1797.4,1193.15 L1798.4,1193.15 L1799.4,1193.16 L1800.4,1193.16 L1801.4,1193.16 L1802.4,1193.17 L1803.4,1193.17 L1804.4,1193.18 L1805.4,1193.18 L1806.4,1193.18 L1807.4,1193.19 L1808.4,1193.19 L1809.4,1193.20 L1810.4,1193.20 L1811.4,1193.21 L1812.4,1193.21 L1813.4,1193.22 L1814.4,1193.22 L1815.4,1193.23 L1816.4,1193.23 L1817.4,1193.24 L1818.4,1193.24 L1819.4,1193.25 L1820.4,1193.25 L1821.4,1193.26 L1822.4,1193.26 L1823.4,1193.27 L1824.4,1193.27 L1825.4,1193.28 L1826.4,1193.28 L1827.4,1193.29 L1828.4,1193.29 L1829.4,1193.30 L1830.4,1193.30 L1831.4,1193.31 L1832.4,1193.32 L1833.4,1193.32 L1834.4,1193.33 L1835.4,1193.33 L1836.4,1193.34 L1837.4,1193.34 L1838.4,1193.35 L1839.4,1193.36 L1840.4,1193.36 L1841.4,1193.37 L1842.4,1193.37 L1843.4,1193.38 L1844.4,1193.39 L1845.4,1193.39 L1846.4,1193.40 L1847.4,1193.40 L1848.4,1193.41 L1849.4,1193.42 L1850.4,1193.42 L1851.4,1193.43 L1852.4,1193.43 L1853.4,1193.44 L1854.4,1193.45 L1855.4,1193.45 L1856.4,1193.46 L1857.4,1193.46 L1858.4,1193.47 L1859.4,1193.48 L1860.4,1193.48 L1861.4,1193.49 L1862.4,1193.49 L1863.4,1193.50 L1864.4,1193.51 L1865.4,1193.51 L1866.4,1193.52 L1867.4,1193.52 L1868.4,1193.53 L1869.4,1193.54 L1870.4,1193.54 L1871.4,1193.55 L1872.4,1193.55 L1873.4,1193.56 L1874.4,1193.57 L1875.4,1193.57 L1876.4,1193.58 L1877.4,1193.58 L1878.4,1193.59 L1879.4,1193.59 L1880.4,1193.60 L1881.4,1193.61 L1882.4,1193.61 L1883.4,1193.62 L1884.4,1193.62 L1885.4,1193.63 L1886.4,1193.63 L1887.4,1193.64 L1888.4,1193.64 L1889.4,1193.65 L1890.4,1193.65 L1891.4,1193.66 L1892.4,1193.67 L1893.4,1193.67 L1894.4,1193.68 L1895.4,1193.68 L1896.4,1193.69 L1897.4,1193.69 L1898.4,1193.70 L1899.4,1193.70 L1900.4,1193.71 L1901.4,1193.71 L1902.4,1193.72 L1903.4,1193.72 L1904.4,1193.72 L1905.4,1193.73 L1906.4,1193.73 L1907.4,1193.74 L1908.4,1193.74 L1909.4,1193.75 L1910.4,1193.75 L1911.4,1193.76 L1912.4,1193.76 L1913.4,1193.76 L1914.4,1193.77 L1915.4,1193.77 L1916.4,1193.78 L1917.4,1193.78 L1918.4,1193.79 L1919.4,1193.79 L1920.4,1193.79 L1921.4,1193.80 L1922.4,1193.80 L1923.4,1193.80 L1924.4,1193.81 L1925.4,1193.81 L1926.4,1193.82 L1927.4,1193.82 L1928.4,1193.82 L1929.4,1193.83 L1930.4,1193.83 L1931.4,1193.83 L1932.4,1193.84 L1933.4,1193.84 L1934.4,1193.84 L1935.4,1193.85 L1936.4,1193.85 L1937.4,1193.85 L1938.4,1193.86 L1939.4,1193.86 L1940.4,1193.86 L1941.4,1193.86 L1942.4,1193.87 L1943.4,1193.87 L1944.4,1193.87 L1945.4,1193.88 L1946.4,1193.88 L1947.4,1193.88 L1948.4,1193.88 L1949.4,1193.89 L1950.4,1193.89 L1951.4,1193.89 L1952.4,1193.89 L1953.4,1193.90 L1954.4,1193.90 L1955.4,1193.90 L1956.4,1193.90 L1957.4,1193.91 L1958.4,1193.91 L1959.4,1193.91 L1960.4,1193.91 L1961.4,1193.91 L1962.4,1193.92 L1963.4,1193.92 L1964.4,1193.92 L1965.4,1193.92 L1966.4,1193.92 L1967.4,1193.93 L1968.4,1193.93 L1969.4,1193.93 L1970.4,1193.93 L1971.4,1193.93 L1972.4,1193.93 L1973.4,1193.94 L1974.4,1193.94 L1975.4,1193.94 L1976.4,1193.94 L1977.4,1193.94 L1978.4,1193.94 L1979.4,1193.95 L1980.4,1193.95 L1981.4,1193.95 L1982.4,1193.95 L1983.4,1193.95 L1984.4,1193.95 L1985.4,1193.95 L1986.4,1193.95 L1987.4,1193.96 L1988.4,1193.96 L1989.4,1193.96 L1990.4,1193.96 L1991.4,1193.96 L1992.4,1193.96 L1993.4,1193.96 L1994.4,1193.96 L1995.4,1193.96 L1996.4,1193.97 L1997.4,1193.97 L1998.4,1193.97 L1999.4,1193.97 L2000.4,1193.97 L2001.4,1193.97 L2002.4,1193.97 L2003.4,1193.97 L2004.4,1193.97 L2005.4,1193.97 L2006.4,1193.97 L2007.4,1193.97 L2008.4,1193.98 L2009.4,1193.98 L2010.4,1193.98 L2011.4,1193.98 L2012.4,1193.98 L2013.4,1193.98 L2014.4,1193.98 L2015.4,1193.98 L2016.4,1193.98 L2017.4,1193.98 L2018.4,1193.98 L2019.4,1193.98 L2020.4,1193.98 L2021.4,1193.98 L2022.4,1193.98 L2023.4,1193.98 L2024.4,1193.98 L2025.4,1193.99 L2026.4,1193.99 L2027.4,1193.99 L2028.4,1193.99 L2029.4,1193.99 L2030.4,1193.99 L2031.4,1193.99 L2032.4,1193.99 L2033.4,1193.99 L2034.4,1193.99 L2035.4,1193.99 L2036.4,1193.99 L2037.4,1193.99 L2038.4,1193.99 L2039.4,1193.99 L2040.4,1193.99 L2041.4,1193.99 L2042.4,1193.99 L2043.4,1193.99 L2044.4,1193.99 L2045.4,1193.99 L2046.4,1193.99 L2047.4,1193.99 L2048.4,1193.99 L2049.4,1193.99 L2050.4,1193.99 L2051.4,1193.99 L2052.4,1193.99 L2053.4,1193.99 L2054.4,1193.99 L2055.4,1193.99 L2056.4,1193.99 L2057.4,1193.99 L2058.4,1194.00 L2059.4,1194.00 L2060.4,1194.00 L2061.4,1194.00 L2062.4,1194.00 L2063.4,1194.00 L2064.4,1194.00 L2065.4,1194.00 L2066.4,1194.00 L2067.4,1194.00 L2068.4,1194.00 L2069.4,1194.00 L2070.4,1194.00 L2071.4,1194.00 L2072.4,1194.00 L2073.4,1194.00 L2074.4,1194.00 L2075.4,1194.00 L2076.4,1194.00 L2077.4,1194.00 L2078.4,1194.00 L2079.4,1194.00 L2080.4,1194.00 L2081.4,1194.00 L2082.4,1194.00 L2083.4,1194.00 L2084.4,1194.00 L2085.4,1194.00 L2086.4,1194.00 L2087.4,1194.00 L2088.4,1194.00 L2089.4,1194.00 L2090.4,1194.00 L2091.4,1194.00 L2092.4,1194.00 L2093.4,1194.00 L2094.4,1194.00 L2095.4,1194.00 L2096.4,1194.00 L2097.4,1194.00 L2098.4,1194.00 L2099.4,1194.00 L2100.4,1194.00 L2101.4,1194.00 L2102.4,1194.00 L2103.4,1194.00 L2104.4,1194.00 L2105.4,1194.00 L2106.4,1194.00 L2107.4,1194.00 L2108.4,1194.00 L2109.4,1194.00 L2110.4,1194.00 L2111.4,1194.00 L2112.4,1194.00 L2113.4,1194.00 L2114.4,1194.00 L2115.4,1194.00 L2116.4,1194.00 L2117.4,1194.00 L2118.4,1194.00 L2119.4,1194.00 L2120.4,1194.00 L2121.4,1194.00 L2122.4,1194.00 L2123.4,1194.00 L2124.4,1194.00 L2125.4,1194.00 L2126.4,1194.00 L2127.4,1194.00 L2128.4,1194.00 L2129.4,1194.00 L2130.4,1194.00 L2131.4,1194.00 L2132.4,1194.00 L2133.4,1194.00 L2134.4,1194.00 L2135.4,1194.00 L2136.4,1194.00 L2137.4,1194.00 L2138.4,1194.00 L2139.4,1194.00 L2140.4,1194.00 L2141.4,1194.00 L2142.4,1194.00 L2143.4,1194.00 L2144.4,1194.00 L2145.4,1194.00 L2146.4,1194.00 L2147.4,1194.00 L2148.4,1194.00 L2149.4,1194.00 L2150.4,1194.00 L2151.4,1194.00 L2152.4,1194.00 L2153.4,1194.00 L2154.4,1194.00 L2155.4,1194.00 L2156.4,1194.00 L2157.4,1194.00 L2158.4,1194.00 L2159.4,1194.00 L2160.4,1194.00 L2161.4,1194.00 L2162.4,1194.00 L2163.4,1194.00 L2164.4,1194.00 L2165.4,1194.00 L2166.4,1194.00 L2167.4,1194.00 L2168.4,1194.00 L2169.4,1194.00 L2170.4,1194.00 L2171.4,1194.00 L2172.4,1194.00 L2173.4,1194.00 L2174.4,1194.00 L2175.4,1194.00 L2176.4,1194.00 L2177.4,1194.00 L2178.4,1194.00 L2179.4,1194.00 L2180.4,1194.00 L2181.4,1194.00 L2182.4,1194.00 L2183.4,1194.00 L2184.4,1194.00 L2185.4,1194.00 L2186.4,1194.00 L2187.4,1194.00 L2188.4,1194.00 L2189.4,1194.00 L2190.4,1194.00 L2191.4,1194.00 L2192.4,1194.00 L2193.4,1194.00 L2194.4,1194.00 L2195.4,1194.00 L2196.4,1194.00 L2197.4,1194.00 L2198.4,1194.00 L2199.4,1194.00 L2200.4,1194.00 L2201.4,1194.00 L2202.4,1194.00 L2203.4,1194.00 L2204.4,1194.00 L2205.4,1194.00 L2206.4,1194.00 L2207.4,1194.00 L2208.4,1194.00 L2209.4,1194.00 L2210.4,1194.00 L2211.4,1194.00 L2212.4,1194.00 L2213.4,1194.00 L2214.4,1194.00 L2215.4,1194.00 L2216.4,1194.00 L2217.4,1194.00 L2218.4,1194.00 L2219.4,1194.00 L2220.4,1194.00 L2221.4,1194.00 L2222.4,1194.00 L2223.4,1194.00 L2224.4,1194.00 L2225.4,1194.00 L2226.4,1194.00 L2227.4,1194.00 L2228.4,1194.00 L2229.4,1194.00 L2230.4,1194.00 L2231.4,1194.00 L2232.4,1194.00 L2233.4,1194.00 L2234.4,1194.00 L2235.4,1194.00 L2236.4,1194.00 L2237.4,1194.00 L2238.4,1194.00 L2239.4,1194.00 L2240.4,1194.00 L2241.4,1194.00 L2242.4,1194.00 L2243.4,1194.00 L2244.4,1194.00 L2245.4,1194.00 L2246.4,1194.00 L2247.4,1194.00 L2248.4,1194.00 L2249.4,1194.00 L2250.4,1194.00 L2251.4,1194.00 L2252.4,1194.00 L2253.4,1194.00 L2254.4,1194.00 L2255.4,1194.00 L2256.4,1194.00 L2257.4,1194.00 L2258.4,1194.00 L2259.4,1194.00 L2260.4,1194.00 L2261.4,1194.00 L2262.4,1194.00 L2263.4,1194.00 L2264.4,1194.00 L2265.4,1194.00 L2266.4,1194.00 L2267.4,1194.00 L2268.4,1194.00 L2269.4,1194.00 L2270.4,1194.00 L2271.4,1194.00 L2272.4,1194.00 L2273.4,1194.00 L2274.4,1194.00 L2275.4,1194.00 L2276.4,1194.00 L2277.4,1194.00 L2278.4,1194.00 L2279.4,1194.00 L2280.4,1194.00 L2281.4,1194.00" fill="none" stroke="#000" stroke-width="7.8" stroke-linecap="round" stroke-linejoin="round" clip-path="url(#plt)"/>
<rect x="2011.4" y="265.0" width="222.0" height="432.0" fill="#fff" stroke="#000" stroke-width="3.125" stroke-linejoin="round"/>
<g font-family="Liberation Sans, Arial, Helvetica, sans-serif" fill="#000">
<rect x="2047.4" y="301.0" width="28.8" height="24" fill="#00ff00" stroke="#000" stroke-width="3.125" stroke-linejoin="round"/>
<text transform="translate(2112.20 327.40) scale(1 1.04)" x="0.0 29.0 58.0" y="0" font-size="40" xml:space="preserve">CN0</text>
<rect x="2047.4" y="349.0" width="28.8" height="24" fill="#ffa500" stroke="#000" stroke-width="3.125" stroke-linejoin="round"/>
<text transform="translate(2112.20 375.40) scale(1 1.04)" x="0.0 29.0 58.0" y="0" font-size="40" xml:space="preserve">CN1</text>
<rect x="2047.4" y="397.0" width="28.8" height="24" fill="#0000ff" stroke="#000" stroke-width="3.125" stroke-linejoin="round"/>
<text transform="translate(2112.20 423.40) scale(1 1.04)" x="0.0 29.0 58.0" y="0" font-size="40" xml:space="preserve">CN2</text>
<rect x="2047.4" y="445.0" width="28.8" height="24" fill="#ff0000" stroke="#000" stroke-width="3.125" stroke-linejoin="round"/>
<text transform="translate(2112.20 471.40) scale(1 1.04)" x="0.0 29.0 58.0" y="0" font-size="40" xml:space="preserve">CN3</text>
<rect x="2047.4" y="493.0" width="28.8" height="24" fill="#ffc0cb" stroke="#000" stroke-width="3.125" stroke-linejoin="round"/>
<text transform="translate(2112.20 519.40) scale(1 1.04)" x="0.0 29.0 58.0" y="0" font-size="40" xml:space="preserve">CN4</text>
<rect x="2047.4" y="541.0" width="28.8" height="24" fill="#ffff00" stroke="#000" stroke-width="3.125" stroke-linejoin="round"/>
<text transform="translate(2112.20 567.40) scale(1 1.04)" x="0.0 29.0 58.0" y="0" font-size="40" xml:space="preserve">CN5</text>
<rect x="2047.4" y="589.0" width="28.8" height="24" fill="#a020f0" stroke="#000" stroke-width="3.125" stroke-linejoin="round"/>
<text transform="translate(2112.20 615.40) scale(1 1.04)" x="0.0 29.0 58.0 80.0" y="0 0 0 4.8" font-size="40" xml:space="preserve">CN6+</text>
<rect x="2047.4" y="637.0" width="28.8" height="24" fill="#d3d3d3" stroke="#000" stroke-width="3.125" stroke-linejoin="round"/>
<text transform="translate(2112.20 663.40) scale(1 1.04)" x="0.0 29.0" y="0" font-size="40" xml:space="preserve">NC</text>
</g>
<g stroke="#000" stroke-width="6.25" stroke-linecap="round" stroke-dasharray="25 25.03" fill="none" clip-path="url(#plt)">
<line x1="330.00" y1="268.7" x2="330.00" y2="1194.0"/>
<line x1="688.34" y1="268.7" x2="688.34" y2="1194.0"/>
<line x1="1046.68" y1="268.7" x2="1046.68" y2="1194.0"/>
<line x1="1405.02" y1="268.7" x2="1405.02" y2="1194.0"/>
<line x1="1763.36" y1="268.7" x2="1763.36" y2="1194.0"/>
<line x1="2121.70" y1="268.7" x2="2121.70" y2="1194.0"/>
</g>
</svg>
</body></html>
